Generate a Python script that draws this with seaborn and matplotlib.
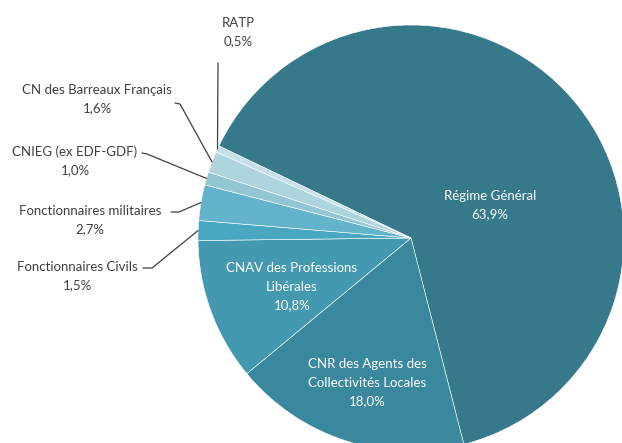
import numpy as np
import seaborn as sns
import matplotlib.pyplot as plt

sns.set_theme(style="white")
plt.rcParams['font.family'] = ['Lato', 'DejaVu Sans']

# Répartition des régimes de retraite
regimes = ["Régime Général", "CNR des Agents des\nCollectivités Locales",
           "CNAV des Professions\nLibérales", "Fonctionnaires Civils",
           "Fonctionnaires militaires", "CNIEG (ex EDF-GDF)",
           "CN des Barreaux Français", "RATP"]
parts = [63.9, 18.0, 10.8, 1.5, 2.7, 1.0, 1.6, 0.5]
couleurs = ["#35798a", "#3a889d", "#4399b0", "#4aa7c1",
            "#63b4ca", "#93c6d3", "#aed4de", "#c4e0e8"]

W, H = 622, 443
cx, cy, R = 411, 238, 213  # centre et rayon en pixels


def px(x, y):
    # pixels de l'image -> coordonnées du camembert (rayon 1)
    return (x - cx) / R, (cy - y) / R


fig = plt.figure(figsize=(W / 100, H / 100), dpi=100)
ax = fig.add_axes([0, 0, 1, 1])

pal = sns.color_palette(couleurs)
wedges, _ = ax.pie(parts, colors=pal, startangle=154.4, counterclock=False,
                   wedgeprops=dict(edgecolor="white", linewidth=0.4))

etiquettes = [f"{r}\n{str(v).replace('.', ',')}%" for r, v in zip(regimes, parts)]

# étiquettes internes
internes = {0: (490, 205), 1: (367, 383), 2: (292, 287)}
for i, (x, y) in internes.items():
    ax.text(*px(x, y), etiquettes[i], ha="center", va="center", color="white",
            fontsize=9.5, linespacing=1.65)

# étiquettes externes : position du texte, début du trait, coude
externes = {
    3: ((77, 276), (143, 268), (152, 268)),
    4: ((90, 220), (171, 212), (179, 212)),
    5: ((75, 161), (142, 153), (147, 154)),
    6: ((97, 99), (175, 103), (180, 104)),
    7: ((238, 32), (218, 63), (218, 63)),
}
for i, (pos, debut, coude) in externes.items():
    w = wedges[i]
    mid = np.deg2rad((w.theta1 + w.theta2) / 2)
    bout = (np.cos(mid), np.sin(mid))
    ax.text(*px(*pos), etiquettes[i], ha="center", va="center", color="#404040",
            fontsize=9.5, linespacing=1.65)
    xs = [px(*debut)[0], px(*coude)[0], bout[0]]
    ys = [px(*debut)[1], px(*coude)[1], bout[1]]
    ax.plot(xs, ys, color="#404040", lw=0.9)

ax.set_aspect("auto")
ax.set_xlim(px(0, 0)[0], px(W, 0)[0])
ax.set_ylim(px(0, H)[1], px(0, 0)[1])
ax.axis("off")

fig.savefig("out.png", dpi=100, facecolor="white")
